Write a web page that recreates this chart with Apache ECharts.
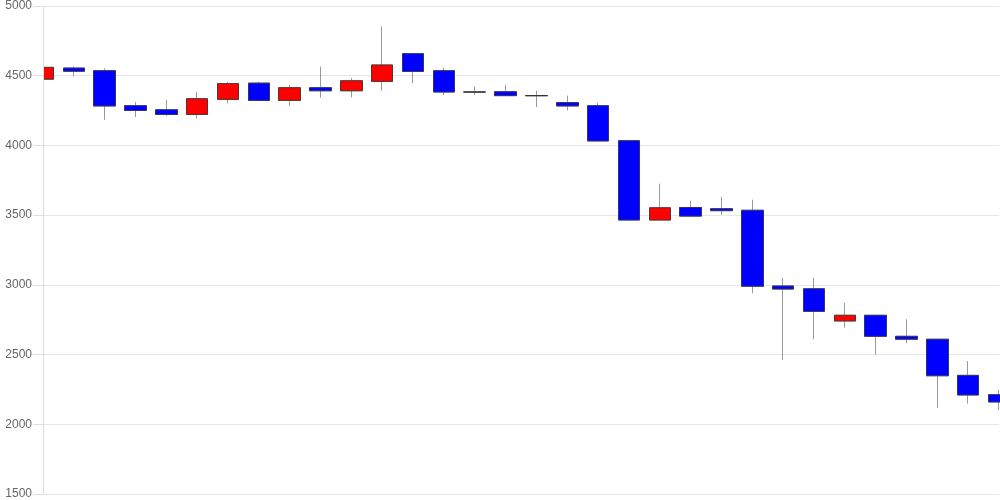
<!DOCTYPE html>
<html>
<head>
<meta charset="utf-8">
<script src="https://cdn.jsdelivr.net/npm/echarts@6/dist/echarts.min.js"></script>
<style>
html,body{margin:0;padding:0;background:#fff;}
#chart{width:1000px;height:500px;}
</style>
</head>
<body>
<div id="chart"></div>
<script>
var categories = ['1','2','3','4','5','6','7','8','9','10','11','12','13','14','15','16','17','18','19','20','21','22','23','24','25','26','27','28','29','30','31','32'];
var openVals  = [4475,4555,4536,4285,4256,4222,4330,4447,4323,4414,4392,4459,4658,4536,4383,4385,4357,4307,4285,4034,3465,3555,3546,3535,2992,2972,2741,2782,2631,2610,2351,2212];
var closeVals = [4560,4532,4283,4251,4222,4335,4443,4323,4414,4392,4464,4577,4531,4383,4383,4357,4357,4283,4032,3465,3553,3493,3532,2990,2970,2810,2782,2631,2610,2348,2210,2160];
var lowVals   = [4470,4495,4184,4204,4210,4194,4301,4320,4283,4342,4345,4392,4445,4362,4362,4355,4275,4251,4030,3463,3463,3490,3503,2940,2461,2610,2693,2499,2581,2119,2148,2102];
var highVals  = [4630,4567,4553,4311,4326,4385,4455,4457,4433,4565,4483,4854,4660,4557,4423,4435,4392,4357,4305,4034,3726,3604,3632,3611,3051,3051,2870,2785,2753,2612,2454,2246];
var yTicks = {min:1500, max:5000, step:500};

var fullData = categories.map(function(c,i){ return [openVals[i], closeVals[i], lowVals[i], highVals[i]]; });
var bodyData = categories.map(function(c,i){
  var lo = Math.min(openVals[i], closeVals[i]), hi = Math.max(openVals[i], closeVals[i]);
  return [openVals[i], closeVals[i], lo, hi];
});

var chart = echarts.init(document.getElementById('chart'), null, {renderer:'canvas'});
chart.setOption({
  animation:false,
  backgroundColor:'#ffffff',
  grid:{left:43, right:1, top:6, bottom:6},
  graphic:[{
    type:'rect', z:5, silent:true,
    shape:{x:0, y:0, width:43, height:500},
    style:{fill:'#ffffff'}
  }],
  xAxis:{
    type:'category', data:categories, boundaryGap:false,
    axisLine:{show:false}, axisTick:{show:false}, axisLabel:{show:false}, splitLine:{show:false}
  },
  yAxis:[{
    type:'value', min:yTicks.min, max:yTicks.max, interval:yTicks.step,
    axisLine:{show:false}, axisTick:{show:false}, axisLabel:{show:false},
    splitLine:{show:true, lineStyle:{color:'#e6e6e6'}}
  },{
    type:'value', min:yTicks.min, max:yTicks.max, interval:yTicks.step, z:10, position:'left', offset:0,
    axisLine:{show:true, lineStyle:{color:'#dddddd'}},
    axisTick:{show:true, length:10, lineStyle:{color:'#dddddd'}},
    axisLabel:{color:'#666666', fontSize:12, margin:11, fontFamily:'Liberation Sans, Arial, sans-serif',
      formatter:function(v){ return String(v); }},
    splitLine:{show:false}
  }],
  series:[
    {
      name:'wick', type:'candlestick', data:fullData, barWidth:22, yAxisIndex:0,
      itemStyle:{color:'#ffffff', color0:'#ffffff', borderColor:'#999999', borderColor0:'#999999', borderColorDoji:'#999999', borderWidth:1},
      emphasis:{disabled:true}
    },
    {
      name:'body', type:'candlestick', data:bodyData, barWidth:22, yAxisIndex:0,
      itemStyle:{color:'#ff0000', color0:'#0000ff', borderColor:'#553333', borderColor0:'#333366', borderColorDoji:'#333333', borderWidth:1},
      emphasis:{disabled:true}
    }
  ]
});
</script>
</body>
</html>
